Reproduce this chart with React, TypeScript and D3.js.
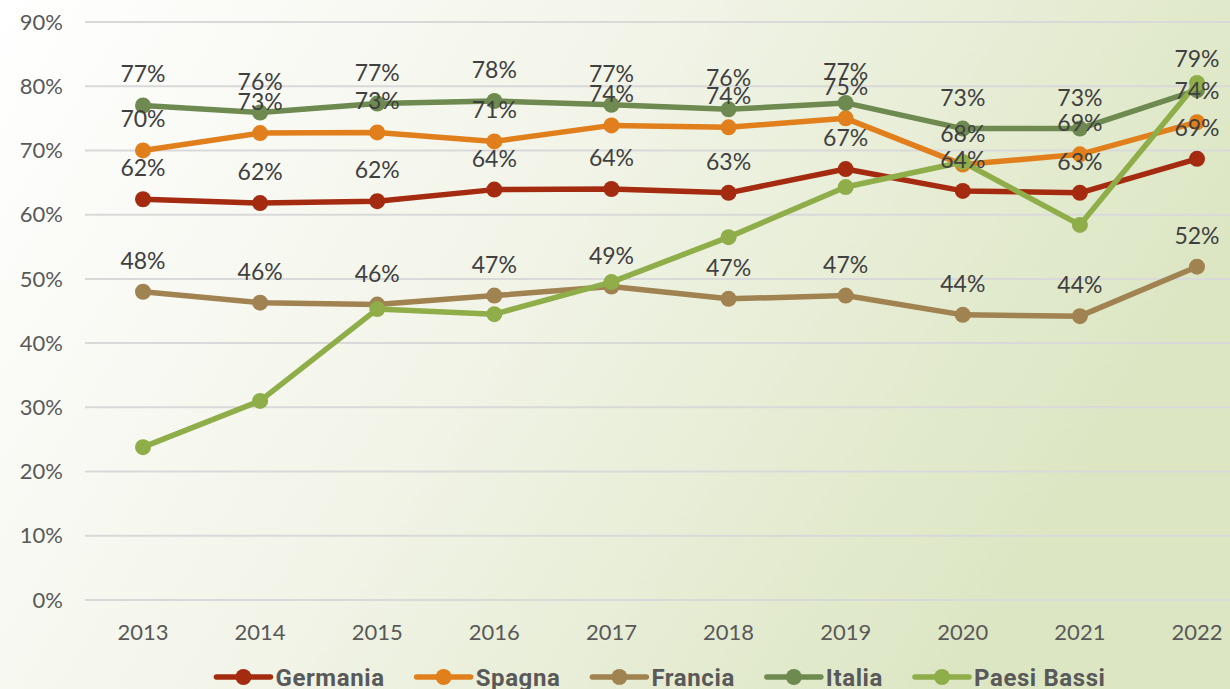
import {useEffect, useRef} from 'react';
import * as d3 from 'd3';

const years = ['2013', '2014', '2015', '2016', '2017', '2018', '2019', '2020', '2021', '2022'];

const germania = [62.4, 61.8, 62.1, 63.9, 64.0, 63.4, 67.1, 63.7, 63.4, 68.7];
const spagna = [70.0, 72.7, 72.8, 71.4, 73.9, 73.6, 75.0, 67.8, 69.4, 74.4];
const francia = [48.0, 46.3, 46.0, 47.4, 48.8, 46.9, 47.4, 44.4, 44.2, 51.9];
const italia = [77.0, 75.9, 77.3, 77.7, 77.1, 76.4, 77.4, 73.4, 73.4, 79.4];
const paesiBassi = [23.8, 31.0, 45.3, 44.5, 49.5, 56.5, 64.3, 68.2, 58.4, 80.5];

const yTicks = [0, 10, 20, 30, 40, 50, 60, 70, 80, 90];

const seriesNames = ['Germania', 'Spagna', 'Francia', 'Italia', 'Paesi Bassi'];
const seriesValues = [germania, spagna, francia, italia, paesiBassi];
const seriesColors = ['#a52b10', '#e07f1c', '#a08351', '#6e8a50', '#8fad49'];
const seriesLabelled = [true, true, true, true, false];

export default function App() {
    const ref = useRef(null);

    useEffect(() => {
        const width = 1230;
        const height = 689;
        const svg = d3.select(ref.current);
        svg.selectAll('*').remove();
        svg.attr('viewBox', `0 0 ${width} ${height}`);

        const series = seriesNames.map((name, i) => ({
            name,
            color: seriesColors[i],
            labelled: seriesLabelled[i],
            values: seriesValues[i].map((v, j) => ({year: years[j], value: v})),
        }));

        // background gradient
        const defs = svg.append('defs');
        const grad = defs
            .append('linearGradient')
            .attr('id', 'bg')
            .attr('x1', '0')
            .attr('y1', '0')
            .attr('x2', '1')
            .attr('y2', '0.35');
        grad.append('stop').attr('offset', '0%').attr('stop-color', '#ffffff');
        grad.append('stop').attr('offset', '45%').attr('stop-color', '#f3f5ea');
        grad.append('stop').attr('offset', '100%').attr('stop-color', '#dce6c3');
        svg.append('rect').attr('width', width).attr('height', height).attr('fill', 'url(#bg)');

        const x = d3.scalePoint().domain(years).range([143, 1197]);
        const y = d3.scaleLinear().domain([0, 90]).range([600, 22]);

        // gridlines
        svg
            .append('g')
            .selectAll('line')
            .data(yTicks)
            .enter()
            .append('line')
            .attr('x1', 85)
            .attr('x2', width)
            .attr('y1', (d) => y(d))
            .attr('y2', (d) => y(d))
            .attr('stroke', '#d9d9d9')
            .attr('stroke-width', 2);

        // y labels
        svg
            .append('g')
            .selectAll('text')
            .data(yTicks)
            .enter()
            .append('text')
            .attr('x', 63)
            .attr('y', (d) => y(d))
            .attr('dy', '0.35em')
            .attr('text-anchor', 'end')
            .attr('fill', '#595959')
            .attr('font-family', 'Lato, sans-serif')
            .attr('font-size', '22px')
            .text((d) => `${d}%`);

        // x labels
        svg
            .append('g')
            .selectAll('text')
            .data(years)
            .enter()
            .append('text')
            .attr('x', (d) => x(d))
            .attr('y', 632)
            .attr('dy', '0.35em')
            .attr('text-anchor', 'middle')
            .attr('fill', '#595959')
            .attr('font-family', 'Lato, sans-serif')
            .attr('font-size', '22px')
            .text((d) => d);

        const line = d3
            .line()
            .x((d) => x(d.year))
            .y((d) => y(d.value));

        const lines = svg.append('g');
        series.forEach((s) => {
            lines
                .append('path')
                .datum(s.values)
                .attr('d', line)
                .attr('fill', 'none')
                .attr('stroke', s.color)
                .attr('stroke-width', 5.5)
                .attr('stroke-linejoin', 'round');
            lines
                .selectAll(null)
                .data(s.values)
                .enter()
                .append('circle')
                .attr('cx', (d) => x(d.year))
                .attr('cy', (d) => y(d.value))
                .attr('r', 8)
                .attr('fill', s.color);
        });

        // data labels
        const labels = svg.append('g');
        series
            .filter((s) => s.labelled)
            .forEach((s) => {
                labels
                    .selectAll(null)
                    .data(s.values)
                    .enter()
                    .append('text')
                    .attr('x', (d) => x(d.year))
                    .attr('y', (d) => y(d.value) - 23)
                    .attr('text-anchor', 'middle')
                    .attr('fill', '#404040')
                    .attr('font-family', 'Lato, sans-serif')
                    .attr('font-size', '23px')
                    .text((d) => `${Math.round(d.value)}%`);
            });

        // legend
        const legend = svg.append('g');
        const items = series.map((s) => {
            const g = legend.append('g');
            g.append('line')
                .attr('x1', 0)
                .attr('x2', 54)
                .attr('y1', 0)
                .attr('y2', 0)
                .attr('stroke', s.color)
                .attr('stroke-width', 5.5)
                .attr('stroke-linecap', 'round');
            g.append('circle').attr('cx', 27).attr('cy', 0).attr('r', 8).attr('fill', s.color);
            const t = g
                .append('text')
                .attr('x', 59)
                .attr('dy', '0.36em')
                .attr('fill', '#595959')
                .attr('font-family', 'Roboto, sans-serif')
                .attr('font-weight', 'bold')
                .attr('font-size', '24px')
                .attr('letter-spacing', '0.6px')
                .text(s.name);
            const w = 59 + t.node().getComputedTextLength();
            return {g, w};
        });
        const gap = 32;
        const total = d3.sum(items, (d) => d.w) + gap * (items.length - 1);
        let cx = 661 - total / 2;
        items.forEach((it) => {
            it.g.attr('transform', `translate(${cx}, 677)`);
            cx += it.w + gap;
        });
    }, []);

    return <svg ref={ref} width={1230} height={689} style={{position: 'absolute', left: 0, top: 0}}></svg>;
}
